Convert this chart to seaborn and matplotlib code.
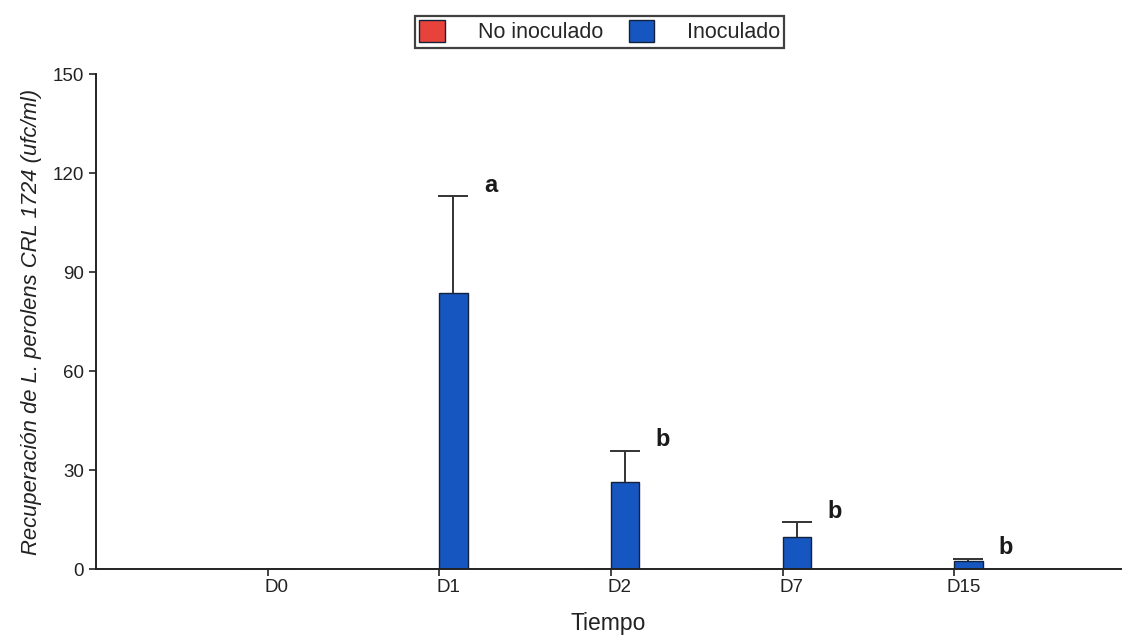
import numpy as np
import pandas as pd
import seaborn as sns
import matplotlib
matplotlib.use("Agg")
import matplotlib.pyplot as plt
import matplotlib.transforms as mtransforms

# ---- data ----
days = ["D0", "D1", "D2", "D7", "D15"]
groups = ["No inoculado", "Inoculado"]
no_inoculado = [0, 0, 0, 0, 0]
inoculado = [0, 83.5, 26.5, 9.8, 2.5]
inoculado_err = [0, 29.5, 9.3, 4.4, 0.6]
letters = ["", "a", "b", "b", "b"]
yticks = [0, 30, 60, 90, 120, 150]

colors = {"No inoculado": "#e8433a", "Inoculado": "#1656c0"}

df = pd.DataFrame({
    "Tiempo": days * 2,
    "Grupo": [groups[0]] * len(days) + [groups[1]] * len(days),
    "valor": no_inoculado + inoculado,
})

sns.set_style("ticks")
plt.rcParams["font.family"] = ["Liberation Sans", "DejaVu Sans"]

fig = plt.figure(figsize=(11.23, 6.36), dpi=100)
ax = fig.add_axes([0.0855, 0.1053, 0.9125, 0.7783])

sns.barplot(data=df, x="Tiempo", y="valor", hue="Grupo", order=days,
            hue_order=groups, palette=colors, width=0.33, errorbar=None,
            saturation=1, edgecolor="#14213a", linewidth=1.0, ax=ax, legend=True)

# error bars (upper only) and significance letters on the Inoculado bars
inoc_container = ax.containers[1]
for bar, val, err, let in zip(inoc_container, inoculado, inoculado_err, letters):
    xc = bar.get_x() + bar.get_width() / 2
    if err > 0:
        eb = ax.errorbar([xc], [val], yerr=[[0], [err]], fmt="none",
                         ecolor="#333333", elinewidth=1.4, capsize=10.5,
                         capthick=1.4, zorder=1)
        caps = eb[1]
        if len(caps) > 1:
            caps[0].remove()
    if let:
        ax.annotate(let, xy=(xc, val + err), xytext=(27, 8),
                    textcoords="offset points", ha="center", va="center",
                    fontsize=17, fontweight="bold", color="#1a1a1a")

ax.set_xlim(-1.0, 4.97)
ax.set_ylim(0, 150)
ax.set_yticks(yticks)
ax.set_yticklabels([str(t) for t in yticks])
ax.tick_params(axis="both", labelsize=13.5, colors="#222222", length=5, width=1.2)
ax.tick_params(axis="x", pad=2)
for lab in ax.get_xticklabels():
    lab.set_transform(lab.get_transform() + mtransforms.ScaledTranslation(9 / 100, 0, fig.dpi_scale_trans))

sns.despine(ax=ax)
for s in ["left", "bottom"]:
    ax.spines[s].set_linewidth(1.4)
    ax.spines[s].set_color("#222222")

ax.set_xlabel("Tiempo", fontsize=16.5, labelpad=12, color="#222222")
ax.set_ylabel("Recuperación de L. perolens CRL 1724 (ufc/ml)", fontsize=15.8,
              fontstyle="italic", labelpad=8, color="#222222")

handles, labels = ax.get_legend_handles_labels()
ax.get_legend().remove()
fig.legend(handles, labels, loc="center", bbox_to_anchor=(0.534, 0.950),
           ncol=2, frameon=True, fancybox=False, edgecolor="#111111",
           fontsize=15.5, handlelength=1.2, handleheight=1.2, columnspacing=1.2,
           borderpad=0.2, handletextpad=1.5, borderaxespad=0)
fig.legends[0].get_frame().set_linewidth(1.6)

fig.savefig("out.png", dpi=100)
